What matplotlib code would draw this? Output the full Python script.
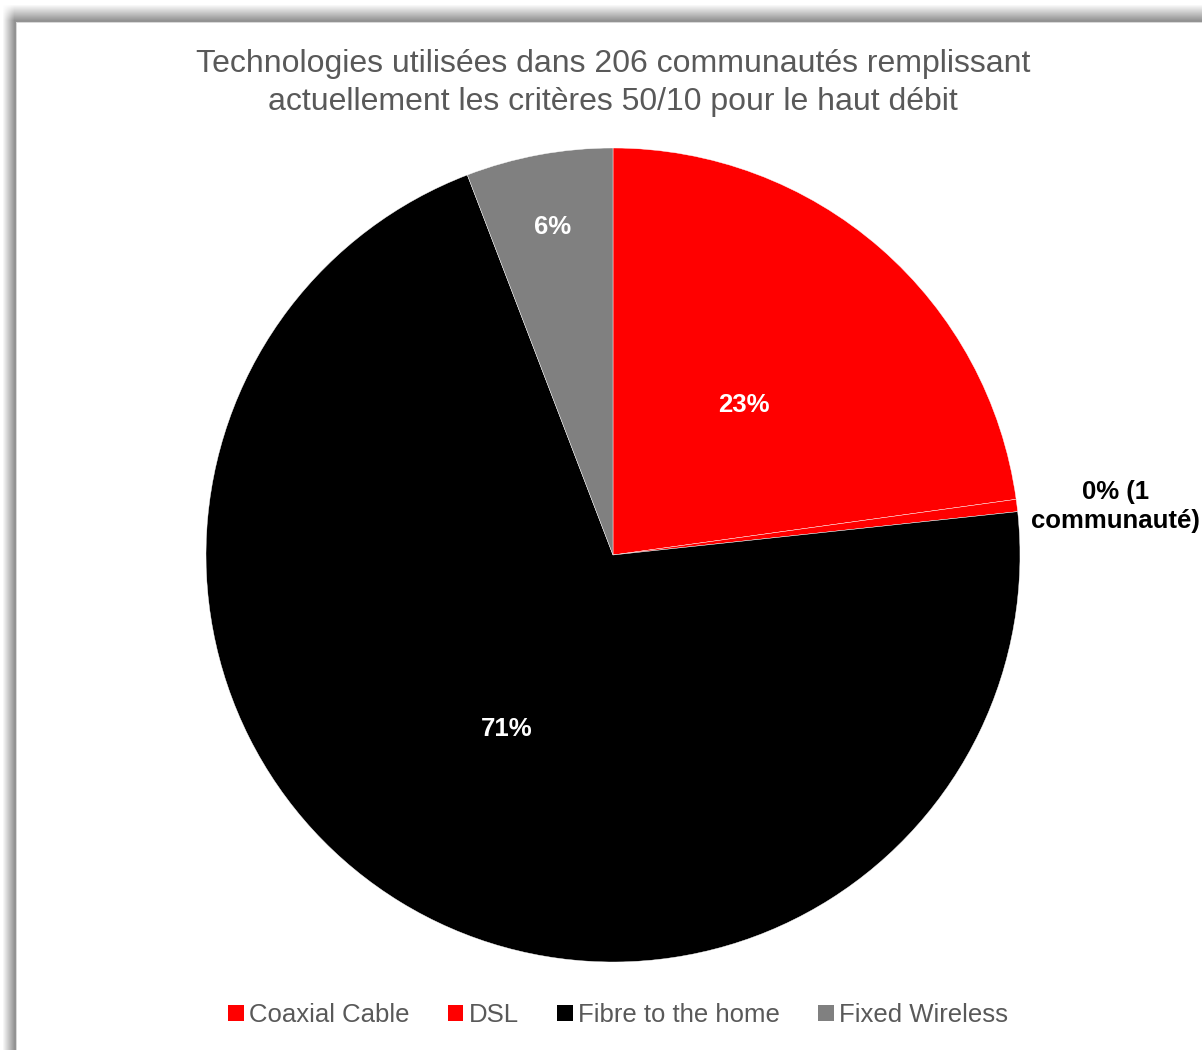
import numpy as np
import matplotlib
matplotlib.use("Agg")
import matplotlib.pyplot as plt
from matplotlib.patches import Patch

plt.rcParams['font.family'] = ['Liberation Sans', 'DejaVu Sans']

categories = ["Coaxial Cable", "DSL", "Fibre to the home", "Fixed Wireless"]
counts = [47, 1, 146, 12]
labels = ["23%", "0% (1\ncommunauté)", "71%", "6%"]
colors = ["#ff0000", "#ff0000", "#000000", "#808080"]
title = "Technologies utilisées dans 206 communautés remplissant\nactuellement les critères 50/10 pour le haut débit"

W, H = 1202, 1050
fig = plt.figure(figsize=(W / 100, H / 100), dpi=100)

# background frame with shadow
yy, xx = np.mgrid[0:H, 0:W]
sx = np.clip((xx - 2) / 12.0, 0, 1)
sy = np.clip((yy - 4) / 16.0, 0, 1)
shade = 1 - 0.42 * (sx * sy)
img = np.dstack([shade, shade, shade])
inner = (xx >= 16) & (yy >= 22)
img[inner] = 1.0
edge = inner & ((xx < 17) | (yy < 23))
img[edge] = 0.85
fig.figimage(img, xo=0, yo=0, origin='upper', zorder=-5)

cx, cy, r = 613, 555, 407
ax = fig.add_axes([(cx - r) / W, (H - cy - r) / H, 2 * r / W, 2 * r / H])
ax.set_zorder(2)
ax.patch.set_visible(False)
wedges, _ = ax.pie(counts, colors=colors, startangle=90, counterclock=False,
                   radius=1.0, wedgeprops=dict(edgecolor='white', linewidth=0.3))
ax.set_xlim(-1, 1)
ax.set_ylim(-1, 1)
ax.set_aspect('equal')
ax.axis('off')

label_r = [0.49, 1.24, 0.50, 0.82]
label_col = ["white", "black", "white", "white"]
for w, lab, rr, c in zip(wedges, labels, label_r, label_col):
    ang = np.deg2rad((w.theta1 + w.theta2) / 2)
    if rr > 1:
        ang = np.deg2rad(5.5)
    ax.text(rr * np.cos(ang), rr * np.sin(ang), lab, ha='center', va='center',
            color=c, fontsize=18.5, fontweight='bold', clip_on=False, linespacing=1.3)

fig.text(cx / W, 1 - 83 / H, title, ha='center', va='center', fontsize=23,
         color='#595959', linespacing=1.35, zorder=3)

handles = [Patch(facecolor=c, edgecolor='none') for c in colors]
leg = fig.legend(handles, categories, loc='center', bbox_to_anchor=(618 / W, 1 - 1015 / H),
                 ncol=4, frameon=False, fontsize=18.5, labelcolor='#595959',
                 handlelength=0.6, handleheight=0.6, handletextpad=0.2, columnspacing=1.5)
leg.set_zorder(3)

fig.savefig("out.png", dpi=100)
